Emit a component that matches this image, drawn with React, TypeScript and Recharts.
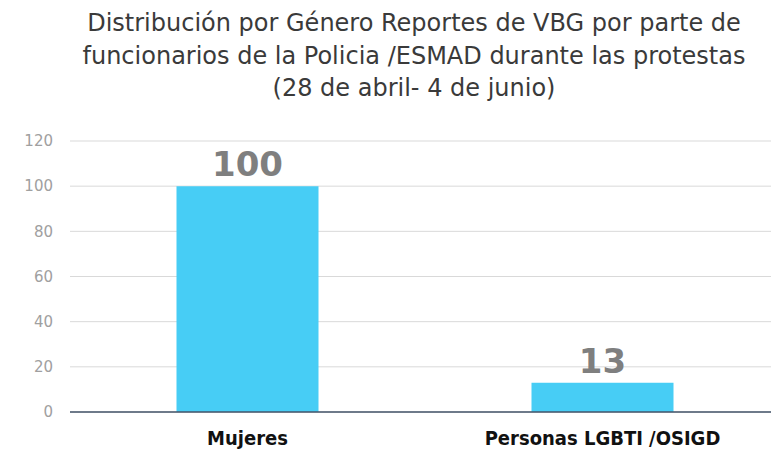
import React from "react";
import { BarChart, Bar, XAxis, YAxis, CartesianGrid, LabelList } from "recharts";

const categories = ["Mujeres", "Personas LGBTI /OSIGD"];
const values = [100, 13];
const yTicks = [0, 20, 40, 60, 80, 100, 120];
const titleLines = [
  "Distribución por Género Reportes de VBG por parte de",
  "funcionarios de la Policia /ESMAD durante las protestas",
  "(28 de abril- 4 de junio)",
];

const data = categories.map((c, i) => ({ name: c, value: values[i] }));

export default function App() {
  return (
    <div
      style={{
        position: "absolute",
        left: 0,
        top: 0,
        width: 771,
        height: 451,
        overflow: "hidden",
        background: "#fff",
      }}
    >
      <div
        style={{
          position: "absolute",
          left: 0,
          top: 7,
          width: 828,
          textAlign: "center",
          fontFamily: "'DejaVu Sans', sans-serif",
          fontSize: 24,
          lineHeight: "32.5px",
          color: "#3a3a3a",
          whiteSpace: "nowrap",
        }}
      >
        {titleLines.map((t, i) => (
          <div key={i}>{t}</div>
        ))}
      </div>
      <div style={{ position: "absolute", left: 0, top: 0 }}>
        <BarChart
          width={790}
          height={451}
          data={data}
          margin={{ top: 141, right: 10, bottom: 0, left: 0 }}
          barCategoryGap="30%"
        >
          <CartesianGrid vertical={false} stroke="#d9d9d9" />
          <XAxis
            dataKey="name"
            height={39}
            axisLine={{ stroke: "#44546a", strokeWidth: 1.5 }}
            tickLine={false}
            tickSize={0}
            tickMargin={19}
            tick={{
              fill: "#111",
              fontSize: 20,
              fontWeight: "bold",
              fontFamily: "'DejaVu Sans Condensed', 'DejaVu Sans', sans-serif",
            }}
          />
          <YAxis
            width={70}
            domain={[0, 120]}
            ticks={yTicks}
            axisLine={false}
            tickLine={false}
            tickSize={0}
            tickMargin={17}
            tick={{
              fill: "#a0a0a0",
              fontSize: 15,
              fontFamily: "'DejaVu Sans', sans-serif",
            }}
          />
          <Bar dataKey="value" fill="#47cdf5" isAnimationActive={false}>
            <LabelList
              dataKey="value"
              position="top"
              offset={10}
              fill="#7f7f7f"
              fontSize={34}
              fontWeight="bold"
              fontFamily="'DejaVu Sans', sans-serif"
            />
          </Bar>
        </BarChart>
      </div>
    </div>
  );
}
